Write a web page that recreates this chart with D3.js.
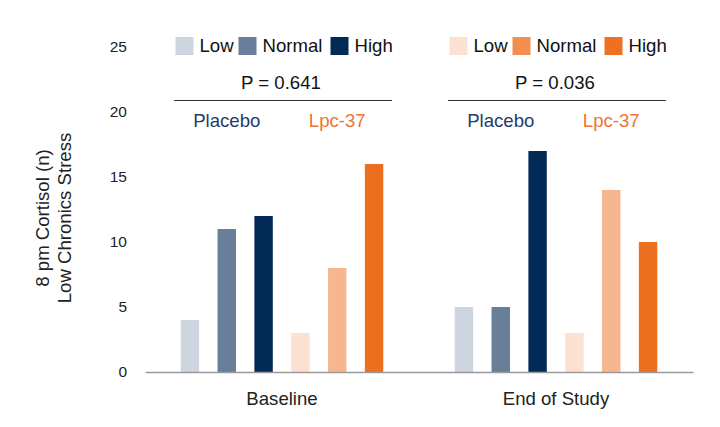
<!DOCTYPE html>
<html>
<head>
<meta charset="utf-8">
<script src="https://cdn.jsdelivr.net/npm/d3@7"></script>
<style>
  html, body { margin: 0; padding: 0; background: #fff; }
  svg { display: block; font-family: "Liberation Sans", Arial, sans-serif; }
</style>
</head>
<body>
<svg id="chart" width="720" height="427"></svg>
<script>
const groups = ["Baseline", "End of Study"];
const series = ["Placebo Low", "Placebo Normal", "Placebo High", "Lpc-37 Low", "Lpc-37 Normal", "Lpc-37 High"];
const baselineValues = [4, 11, 12, 3, 8, 16];
const endOfStudyValues = [5, 5, 17, 3, 14, 10];
const yTicks = [0, 5, 10, 15, 20, 25];
const pLabels = ["P = 0.641", "P = 0.036"];
const legendLabels = ["Low", "Normal", "High"];
const armLabels = ["Placebo", "Lpc-37"];
const barColors = ["#cdd6e0", "#687e99", "#022a56", "#fce1d3", "#f6b78f", "#ec6f20"];
const legendColorsLeft = ["#cdd6e0", "#687e99", "#022a56"];
const legendColorsRight = ["#fce1d3", "#f28f4f", "#ee7021"];
const armColors = ["#1f3c6a", "#ed7431"];

const valuesByGroup = [baselineValues, endOfStudyValues];
const data = groups.map((g, gi) => ({ group: g, values: series.map((s, si) => ({ key: s, value: valuesByGroup[gi][si], color: barColors[si] })) }));

const FS = 18.6;
const svg = d3.select("#chart");
const x0 = d3.scaleBand().domain(groups).range([145, 693]).paddingInner(0).paddingOuter(0);
const x1 = d3.scaleBand().domain(series).range([0, x0.bandwidth()]).paddingInner(0.5).paddingOuter(0.97);
const y = d3.scaleLinear().domain([0, 25]).range([372, 47]);

// Bars
const gGroups = svg.append("g").selectAll("g").data(data).join("g")
  .attr("transform", d => `translate(${x0(d.group)},0)`);
gGroups.selectAll("rect").data(d => d.values).join("rect")
  .attr("x", d => x1(d.key))
  .attr("y", d => y(d.value))
  .attr("width", x1.bandwidth())
  .attr("height", d => y(0) - y(d.value))
  .attr("fill", d => d.color);

// Y axis
const yAxis = svg.append("g").attr("transform", "translate(145,0)")
  .call(d3.axisLeft(y).tickValues(yTicks).tickSize(0).tickPadding(18));
yAxis.select(".domain").remove();
yAxis.selectAll("text").attr("font-size", 15.5).attr("fill", "#222").attr("font-family", "Liberation Sans, Arial, sans-serif");

// X axis
const xAxis = svg.append("g").attr("transform", "translate(0,372)")
  .call(d3.axisBottom(x0).tickSize(0).tickSizeOuter(0).tickPadding(20));
xAxis.select(".domain").attr("stroke", "#9a9a9a").attr("stroke-width", 1.5);
xAxis.selectAll("text").attr("font-size", FS).attr("fill", "#222").attr("font-family", "Liberation Sans, Arial, sans-serif");

// Y title
const yTitle = svg.append("text")
  .attr("transform", "translate(0,218) rotate(-90)")
  .attr("text-anchor", "middle")
  .attr("font-size", FS)
  .attr("fill", "#222");
yTitle.append("tspan").attr("x", 0).attr("y", 49).text("8 pm Cortisol (n)");
yTitle.append("tspan").attr("x", 0).attr("y", 71).text("Low Chronics Stress");

// Legends, P values, separators, arm labels
const legendOffsets = [30.5, 93.5, 185.5];
groups.forEach((g, gi) => {
  const gx = x0(g);
  const cols = gi === 0 ? legendColorsLeft : legendColorsRight;
  const lg = svg.append("g");
  legendLabels.forEach((lab, li) => {
    lg.append("rect").attr("x", gx + legendOffsets[li]).attr("y", 37).attr("width", 18).attr("height", 18).attr("fill", cols[li]);
    lg.append("text").attr("x", gx + legendOffsets[li] + 24).attr("y", 52)
      .attr("font-size", FS).attr("fill", "#111").text(lab);
  });
  svg.append("text").attr("x", gx + x0.bandwidth() / 2 - 1).attr("y", 89)
    .attr("text-anchor", "middle").attr("font-size", FS).attr("fill", "#111").text(pLabels[gi]);
  svg.append("line").attr("x1", gx + 29).attr("x2", gx + 247).attr("y1", 100.5).attr("y2", 100.5)
    .attr("stroke", "#333").attr("stroke-width", 1);
  armLabels.forEach((a, ai) => {
    const key = series[ai * 3 + 1];
    svg.append("text").attr("x", gx + x1(key) + x1.bandwidth() / 2).attr("y", 127)
      .attr("text-anchor", "middle").attr("font-size", FS).attr("fill", armColors[ai]).text(a);
  });
});
</script>
</body>
</html>
